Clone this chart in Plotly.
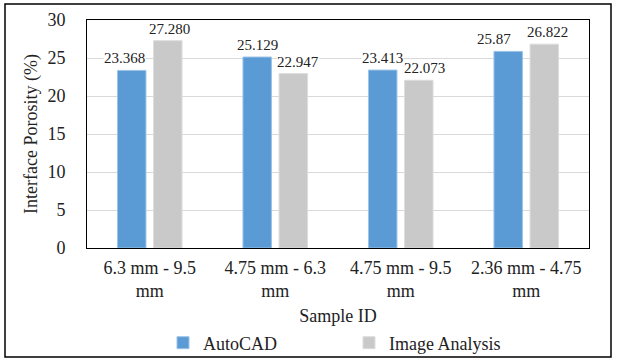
import plotly.graph_objects as go

categories = ["6.3 mm - 9.5<br>mm", "4.75 mm - 6.3<br>mm", "4.75 mm - 9.5<br>mm", "2.36 mm - 4.75<br>mm"]
autocad = [23.368, 25.129, 23.413, 25.87]
image_analysis = [27.280, 22.947, 22.073, 26.822]
autocad_labels = ["23.368", "25.129", "23.413", "25.87"]
image_labels = ["27.280", "22.947", "22.073", "26.822"]

# horizontal nudges of the data labels (px), as placed in the original
autocad_nudge = [-7, 0, 0, -14]
image_nudge = [2, 5, 6, 3]

FONT = "Liberation Serif"
BLUE = "#5B9BD5"
GRAY = "#C9C9C9"

fig = go.Figure()
fig.add_trace(go.Bar(x=categories, y=autocad, name="AutoCAD",
                     marker=dict(color=BLUE, line=dict(color="#9DC3E6", width=1))))
fig.add_trace(go.Bar(x=categories, y=image_analysis, name="Image Analysis",
                     marker=dict(color=GRAY, line=dict(color="#DDDDDD", width=1))))

W, H = 618, 362
ml, mr, mt, mb = 87, 618 - 589, 20, 362 - 248
pw = W - ml - mr
ph = H - mt - mb
bargap = 0.425
slot = pw / len(categories) * (1 - bargap) / 2

for i, c in enumerate(categories):
    for vals, labs, nud, sh in ((autocad, autocad_labels, autocad_nudge, -slot / 2),
                                (image_analysis, image_labels, image_nudge, slot / 2)):
        fig.add_annotation(x=c, y=vals[i], text=labs[i], showarrow=False, xref="x", yref="y",
                           yanchor="bottom", xshift=sh + nud[i], yshift=3, bgcolor="white", borderpad=0,
                           font=dict(family=FONT, size=15, color="#222"))

# outer frame
fig.add_shape(type="rect", xref="paper", yref="paper",
              x0=(5 - ml) / pw, x1=(611 - ml) / pw,
              y0=(248 - 357) / ph, y1=(248 - 4) / ph,
              line=dict(color="black", width=1.5), fillcolor="rgba(0,0,0,0)", layer="above")

fig.update_layout(
    width=W, height=H,
    margin=dict(l=ml, r=mr, t=mt, b=mb, autoexpand=False),
    paper_bgcolor="white", plot_bgcolor="white",
    barmode="group", bargap=bargap, bargroupgap=0.21,
    font=dict(family=FONT, size=18, color="#222"),
    showlegend=True,
    legend=dict(orientation="h", x=(163 - ml) / pw, xanchor="left", y=(248 - 343) / ph, yanchor="middle",
                font=dict(family=FONT, size=18), itemwidth=30, entrywidth=141, traceorder="normal",
                bgcolor="rgba(0,0,0,0)"),
    xaxis=dict(title=dict(text="Sample ID", font=dict(family=FONT, size=18), standoff=9),
               showline=True, linecolor="black", linewidth=1, mirror=True, automargin=False,
               tickfont=dict(family=FONT, size=18), ticks="", showgrid=False, ticklabelstandoff=3),
    yaxis=dict(title=dict(text="Interface Porosity (%)", font=dict(family=FONT, size=18), standoff=5),
               range=[0, 30], dtick=5, showline=True, linecolor="black", linewidth=1, mirror=True,
               gridcolor="#D9D9D9", gridwidth=1, tickfont=dict(family=FONT, size=18), ticks="",
               ticklabelstandoff=17, zeroline=False, automargin=False),
)

fig.write_html("out.html", config={"displayModeBar": False},
               post_script="document.body.style.margin='0';")
